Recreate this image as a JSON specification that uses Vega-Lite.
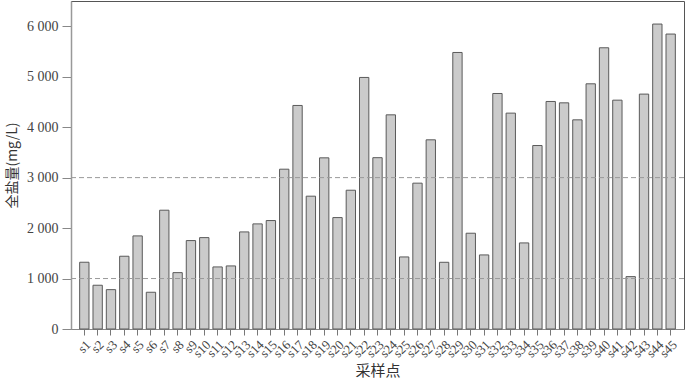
{
  "$schema": "https://vega.github.io/schema/vega-lite/v6.json",
  "width": 613,
  "height": 328,
  "autosize": {"type": "none"},
  "padding": {"left": 71, "top": 1, "right": 1, "bottom": 52},
  "background": "#ffffff",
  "config": {
    "view": {"stroke": "#555555", "strokeWidth": 1},
    "font": "Liberation Serif"
  },
  "datasets": {
    "bars": [
      {"site": "s1", "value": 1323}, {"site": "s2", "value": 867}, {"site": "s3", "value": 780},
      {"site": "s4", "value": 1442}, {"site": "s5", "value": 1845}, {"site": "s6", "value": 728},
      {"site": "s7", "value": 2354}, {"site": "s8", "value": 1117}, {"site": "s9", "value": 1752},
      {"site": "s10", "value": 1811}, {"site": "s11", "value": 1230}, {"site": "s12", "value": 1250},
      {"site": "s13", "value": 1924}, {"site": "s14", "value": 2083}, {"site": "s15", "value": 2149},
      {"site": "s16", "value": 3167}, {"site": "s17", "value": 4430}, {"site": "s18", "value": 2632},
      {"site": "s19", "value": 3392}, {"site": "s20", "value": 2208}, {"site": "s21", "value": 2750},
      {"site": "s22", "value": 4985}, {"site": "s23", "value": 3395}, {"site": "s24", "value": 4244},
      {"site": "s25", "value": 1428}, {"site": "s26", "value": 2890}, {"site": "s27", "value": 3749},
      {"site": "s28", "value": 1322}, {"site": "s29", "value": 5480}, {"site": "s30", "value": 1898},
      {"site": "s31", "value": 1468}, {"site": "s32", "value": 4667}, {"site": "s33", "value": 4278},
      {"site": "s34", "value": 1706}, {"site": "s35", "value": 3636}, {"site": "s36", "value": 4509},
      {"site": "s37", "value": 4482}, {"site": "s38", "value": 4145}, {"site": "s39", "value": 4859},
      {"site": "s40", "value": 5573}, {"site": "s41", "value": 4535}, {"site": "s42", "value": 1038},
      {"site": "s43", "value": 4655}, {"site": "s44", "value": 6043}, {"site": "s45", "value": 5845}
    ],
    "refs": [{"y": 1000}, {"y": 3000}]
  },
  "layer": [
    {
      "data": {"name": "bars"},
      "mark": {"type": "bar", "fill": "#cbcbcb", "stroke": "#5a5a5a", "strokeWidth": 1},
      "encoding": {
        "x": {
          "field": "site", "type": "nominal", "sort": null,
          "scale": {"paddingInner": 0.3, "paddingOuter": 0.65},
          "axis": {
            "title": "采样点",
            "titleFont": "Noto Sans CJK SC",
            "titleFontSize": 15,
            "titleFontWeight": "normal",
            "titleColor": "#333333",
            "titlePadding": 4,
            "labelAngle": -45,
            "labelFontSize": 13,
            "labelColor": "#444444",
            "labelFont": "Liberation Serif",
            "labelPadding": 3,
            "tickColor": "#777777",
            "tickSize": 6,
            "domainColor": "#888888",
            "grid": false
          }
        },
        "y": {
          "field": "value", "type": "quantitative",
          "scale": {"domain": [0, 6500], "nice": false},
          "axis": {
            "title": "全盐量(mg/L)",
            "titleFont": "Noto Sans CJK SC",
            "titleFontSize": 14,
            "titleFontWeight": "normal",
            "titleColor": "#333333",
            "titlePadding": 7,
            "values": [0, 1000, 2000, 3000, 4000, 5000, 6000],
            "labelExpr": "replace(format(datum.value, ','), ',', ' ')",
            "labelFontSize": 14,
            "labelColor": "#444444",
            "labelFont": "Liberation Serif",
            "labelPadding": 4,
            "tickColor": "#888888",
            "tickSize": 9,
            "domainColor": "#999999",
            "domainWidth": 1.5,
            "grid": false
          }
        }
      }
    },
    {
      "data": {"name": "refs"},
      "mark": {"type": "rule", "color": "#999999", "strokeDash": [5, 3], "strokeWidth": 1},
      "encoding": {"y": {"field": "y", "type": "quantitative"}}
    }
  ]
}
